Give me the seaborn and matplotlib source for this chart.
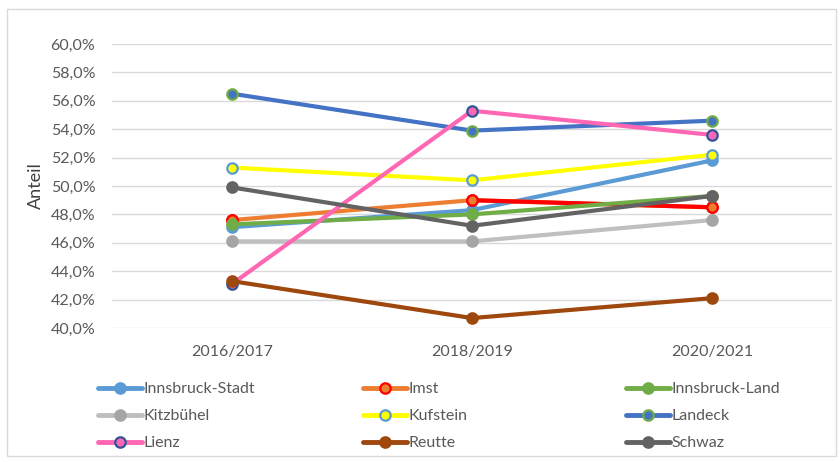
import matplotlib
matplotlib.use("Agg")
import matplotlib.pyplot as plt
from matplotlib.lines import Line2D
from matplotlib.patches import Rectangle
import seaborn as sns
import pandas as pd

# --- data ---
periods = ["2016/2017", "2018/2019", "2020/2021"]
bezirke = ["Innsbruck-Stadt", "Imst", "Innsbruck-Land", "Kitzbühel", "Kufstein",
           "Landeck", "Lienz", "Reutte", "Schwaz"]
innsbruck_stadt = [47.1, 48.3, 51.8]
imst = [47.6, 49.0, 48.5]
innsbruck_land = [47.3, 48.0, 49.3]
kitzbuehel = [46.1, 46.1, 47.6]
kufstein = [51.3, 50.4, 52.2]
landeck = [56.5, 53.9, 54.6]
lienz = [43.1, 55.3, 53.6]
reutte = [43.3, 40.7, 42.1]
schwaz = [49.9, 47.2, 49.3]
values = [innsbruck_stadt, imst, innsbruck_land, kitzbuehel, kufstein,
          landeck, lienz, reutte, schwaz]

# line colour, marker face, marker edge
styles = {
    "Innsbruck-Stadt": ("#5B9BD5", "#5B9BD5", "#5B9BD5"),
    "Imst": ("#ED7D31", "#ED7D31", "#FF0000"),
    "Innsbruck-Land": ("#70AD47", "#70AD47", "#70AD47"),
    "Kitzbühel": ("#BFBFBF", "#A5A5A5", "#A5A5A5"),
    "Kufstein": ("#FFFF00", "#FFFF00", "#5B9BD5"),
    "Landeck": ("#4472C4", "#4472C4", "#70AD47"),
    "Lienz": ("#FF66B3", "#FF66B3", "#2F5597"),
    "Reutte": ("#9E480E", "#9E480E", "#9E480E"),
    "Schwaz": ("#636363", "#636363", "#636363"),
}

df = pd.DataFrame([(b, p, v) for b, vals in zip(bezirke, values)
                   for p, v in zip(periods, vals)],
                  columns=["Bezirk", "Zeitraum", "Anteil"])

sns.set_style("white")
plt.rcParams["font.family"] = ["Lato", "DejaVu Sans"]
txt = "#595959"
fs = 11.5

fig = plt.figure(figsize=(8.4, 4.62), dpi=100)
ax = fig.add_axes([112 / 840, 1 - 328 / 462, 720 / 840, 284 / 462])

lw, ms, mew = 3.0, 7.5, 1.6
for b in bezirke:
    lc, mfc, mec = styles[b]
    sub = df[df["Bezirk"] == b]
    sns.lineplot(data=sub, x="Zeitraum", y="Anteil", ax=ax, sort=False,
                 color=lc, linewidth=lw, marker="o", markersize=ms,
                 markerfacecolor=mfc, markeredgecolor=mec, markeredgewidth=mew)
    if b == "Imst":
        # second segment drawn red in the original
        seg = sub[sub["Zeitraum"] != periods[0]]
        sns.lineplot(data=seg, x="Zeitraum", y="Anteil", ax=ax, sort=False,
                     color="#FF0000", linewidth=lw)
        sns.lineplot(data=sub, x="Zeitraum", y="Anteil", ax=ax, sort=False,
                     color=lc, linestyle="", marker="o", markersize=ms,
                     markerfacecolor=mfc, markeredgecolor=mec, markeredgewidth=mew)

ax.set_xlim(-0.5, 2.5)
ax.set_ylim(40, 60)
ax.set_yticks(range(40, 61, 2))
ax.set_yticklabels([f"{t:.1f}%".replace(".", ",") for t in range(40, 61, 2)])
ax.grid(axis="y", color="#D9D9D9", linewidth=1.0)
ax.grid(axis="x", visible=False)
ax.set_axisbelow(True)
for s in ax.spines.values():
    s.set_visible(False)
ax.tick_params(axis="both", length=0, colors=txt, labelsize=fs)
ax.tick_params(axis="x", pad=12)
ax.tick_params(axis="y", pad=12)
ax.set_xlabel("")
ax.set_ylabel("Anteil", fontsize=13, color="#404040")
ax.yaxis.set_label_coords((44 - 112) / 720, 0.5)

# legend: three columns, three rows
cols = [[0, 3, 6], [1, 4, 7], [2, 5, 8]]
xpos = [98, 363, 626]
for ci, idxs in enumerate(cols):
    handles = []
    for i in idxs:
        lc, mfc, mec = styles[bezirke[i]]
        handles.append(Line2D([], [], color=lc, linewidth=3.5, marker="o", markersize=ms,
                              markerfacecolor=mfc, markeredgecolor=mec,
                              markeredgewidth=mew))
    leg = fig.legend(handles, [bezirke[i] for i in idxs], loc="upper left",
                     bbox_to_anchor=(xpos[ci] / 840, 1 - 382 / 462), frameon=False,
                     fontsize=fs, handlelength=2.75, handletextpad=0.1,
                     labelspacing=0.8, borderaxespad=0, borderpad=0)
    for t in leg.get_texts():
        t.set_color(txt)

fig.patches.append(Rectangle((7 / 840, 6 / 462), 829 / 840, 447 / 462,
                             transform=fig.transFigure, fill=False,
                             edgecolor="#D9D9D9", linewidth=1.0))

fig.savefig("out.png", dpi=100)
